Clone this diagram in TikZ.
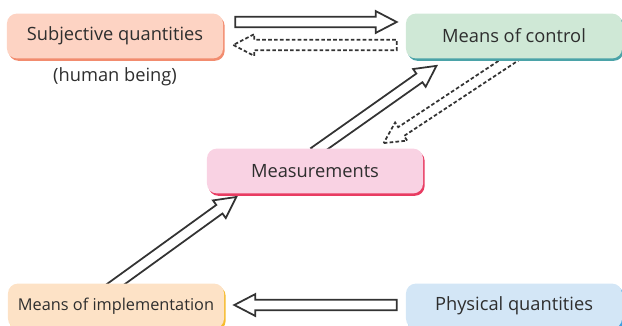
\documentclass[tikz,border=0pt]{standalone}
\usepackage{fontspec}
\setmainfont{Open Sans}
\usetikzlibrary{positioning,shapes.arrows,shadows,calc,backgrounds}
\definecolor{txtgray}{HTML}{2E2E2E}
\definecolor{arrowgray}{HTML}{333333}
\definecolor{subjfill}{HTML}{FDD3C3}
\definecolor{subjedge}{HTML}{F28C6F}
\definecolor{ctrlfill}{HTML}{CFE8D6}
\definecolor{ctrledge}{HTML}{4BA3A8}
\definecolor{measfill}{HTML}{F9D2E3}
\definecolor{measedge}{HTML}{E83C62}
\definecolor{implfill}{HTML}{FDE2C6}
\definecolor{impledge}{HTML}{F6BC2F}
\definecolor{physfill}{HTML}{D3E6F6}
\definecolor{physedge}{HTML}{3DA0E0}

\tikzset{
  qbox/.style 2 args={rounded corners=7pt, fill=#1, text=txtgray,
    minimum width=5.4cm, minimum height=1.12cm, font=\fontsize{13}{15}\selectfont,
    drop shadow={fill=#2, opacity=1, shadow xshift=0.04cm, shadow yshift=-0.06cm}},
  fatarrow/.style={single arrow, draw=arrowgray, line width=1.25pt,
    inner xsep=0pt, inner ysep=0.11cm, single arrow head extend=0.14cm,
    single arrow tip angle=55, single arrow head indent=0pt, outer sep=0pt},
  dasharrow/.style={fatarrow, dash pattern=on 2.6pt off 1.6pt}
}

% hollow arrow from one named point to another
\newcommand{\hollowarrow}[3][]{%
  \path let \p1=($(#3)-(#2)$), \n1={atan2(\y1,\x1)}, \n2={veclen(\x1,\y1)} in
    node[fatarrow, #1, rotate=\n1, minimum height=\n2, anchor=tail] at (#2) {};}

\begin{document}
\begin{tikzpicture}[x=0.025cm, y=-0.025cm]
  \useasboundingbox (0,0) rectangle (622,325);
  % Boxes
  \node[qbox={subjfill}{subjedge}] (subj) at (115,36) {Subjective quantities};
  \node[text=txtgray, font=\fontsize{13}{15}\selectfont, below=0.1cm of subj] (human) {(human being)};
  \node[qbox={ctrlfill}{ctrledge}] (ctrl) at (514,36) {Means of control};
  \node[qbox={measfill}{measedge}] (meas) at (315,171) {Measurements};
  \node[qbox={implfill}{impledge}, font=\fontsize{11.6}{14}\selectfont] (impl) at (116,306) {Means of implementation};
  \node[qbox={physfill}{physedge}] (phys) at (514,306) {Physical quantities};
  % Arrow ends
  \coordinate (s1) at ($(subj.east)+(12,-14)$);
  \coordinate (c1) at ($(ctrl.west)+(-9,-14)$);
  \coordinate (c2) at ($(ctrl.west)+(-9,9)$);
  \coordinate (s2) at ($(subj.east)+(10,9)$);
  \coordinate (p1) at ($(phys.west)+(-9,-1)$);
  \coordinate (i1) at ($(impl.east)+(10,-1)$);
  \coordinate (i2) at ($(impl.north)+(-6,5)$);
  \coordinate (m1) at ($(meas.south west)+(30,3)$);
  \coordinate (m2) at ($(meas.north)+(-1,4)$);
  \coordinate (c3) at ($(ctrl.south west)+(31,7)$);
  \coordinate (c4) at ($(ctrl.south)+(2,-3)$);
  \coordinate (m3) at ($(meas.north east)+(-40,-5)$);
  % Arrows
  \begin{scope}[on background layer]
    \hollowarrow{s1}{c1}
    \hollowarrow[dasharrow]{c2}{s2}
    \hollowarrow{p1}{i1}
    \hollowarrow{i2}{m1}
    \hollowarrow{m2}{c3}
    \hollowarrow[dasharrow]{c4}{m3}
  \end{scope}
\end{tikzpicture}
\end{document}
